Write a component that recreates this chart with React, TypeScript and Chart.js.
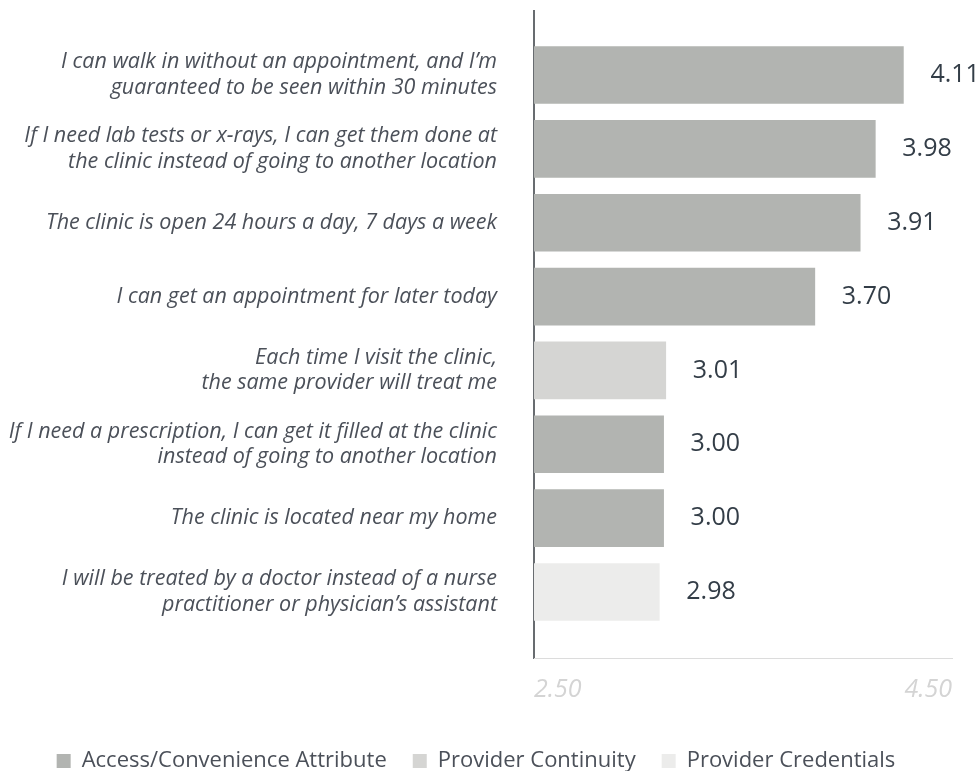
import React, { useEffect, useRef } from "react";
import { Chart, registerables } from "chart.js";

Chart.register(...registerables);

const categories: string[][] = [
  ["I can walk in without an appointment, and I’m", "guaranteed to be seen within 30 minutes"],
  ["If I need lab tests or x-rays, I can get them done at", "the clinic instead of going to another location"],
  ["The clinic is open 24 hours a day, 7 days a week"],
  ["I can get an appointment for later today"],
  ["Each time I visit the clinic,", "the same provider will treat me"],
  ["If I need a prescription, I can get it filled at the clinic", "instead of going to another location"],
  ["The clinic is located near my home"],
  ["I will be treated by a doctor instead of a nurse", "practitioner or physician’s assistant"],
];
const values: number[] = [4.11, 3.98, 3.91, 3.7, 3.01, 3.0, 3.0, 2.98];
const groupOf: number[] = [0, 0, 0, 0, 1, 0, 0, 2];
const groupNames: string[] = ["Access/Convenience Attribute", "Provider Continuity", "Provider Credentials"];
const groupColors: string[] = ["#b2b4b1", "#d5d5d3", "#ececeb"];
const xTickLabels: string[] = ["2.50", "4.50"];
const xMin = 2.4;
const xMax = 4.335;
const yMin = -0.867;
const yMax = 7.894;

const FONT = "'Open Sans', 'Noto Sans', sans-serif";

const valueLabels = {
  id: "valueLabels",
  afterDatasetsDraw(chart: any) {
    const { ctx } = chart;
    const meta = chart.getDatasetMeta(0);
    ctx.save();
    ctx.font = `25px ${FONT}`;
    ctx.fillStyle = "#333d47";
    ctx.textAlign = "left";
    ctx.textBaseline = "middle";
    meta.data.forEach((el: any, i: number) => {
      ctx.fillText(values[i].toFixed(2), el.x + 27, el.y);
    });
    ctx.restore();
  },
};

export default function App() {
  const ref = useRef<HTMLCanvasElement | null>(null);
  useEffect(() => {
    if (!ref.current) return;
    const chart = new Chart(ref.current, {
      type: "bar",
      data: {
        datasets: [
          {
            data: values.map((v, i) => ({ x: v, y: i })) as any,
            backgroundColor: groupOf.map((g) => groupColors[g]),
            borderWidth: 0,
            barThickness: 57,
          },
        ],
      },
      options: {
        indexAxis: "y",
        animation: false,
        responsive: true,
        maintainAspectRatio: false,
        layout: { padding: { top: 11, right: 28, left: 0, bottom: 0 } },
        scales: {
          y: {
            type: "linear",
            reverse: true,
            offset: false,
            min: yMin,
            max: yMax,
            afterBuildTicks: (s: any) => {
              s.ticks = categories.map((_, i) => ({ value: i }));
            },
            afterFit: (s: any) => {
              s.width = 534;
              s.paddingTop = 0;
              s.paddingBottom = 0;
            },
            ticks: {
              autoSkip: false,
              padding: 37,
              color: "#4b5059",
              font: { family: FONT, size: 21.5, style: "italic", lineHeight: 1.2 },
              callback: (_v: any, i: number) => categories[i],
            },
            grid: { display: false, drawTicks: false, offset: false },
            border: { display: true, color: "#686c70", width: 2 },
          },
          x: {
            type: "linear",
            min: xMin,
            max: xMax,
            afterBuildTicks: (s: any) => {
              s.ticks = [{ value: xMin }, { value: xMax }];
            },
            afterFit: (s: any) => {
              s.height = 66;
              s.paddingLeft = 0;
              s.paddingRight = 0;
            },
            ticks: {
              autoSkip: false,
              maxRotation: 0,
              minRotation: 0,
              align: "inner",
              padding: 17,
              color: "#d4d4d4",
              font: { family: FONT, size: 25, style: "italic" },
              callback: (_v: any, i: number) => xTickLabels[i],
            },
            grid: { display: false, drawTicks: false },
            border: { display: true, color: "#dcdcdc", width: 1 },
          },
        },
        plugins: {
          tooltip: { enabled: false },
          legend: {
            position: "bottom",
            onClick: () => {},
            labels: {
              boxWidth: 14,
              boxHeight: 14,
              padding: 26,
              color: "#4b5059",
              font: { family: FONT, size: 22 },
              generateLabels: () =>
                groupNames.map((name, i) => ({
                  text: name,
                  fillStyle: groupColors[i],
                  strokeStyle: groupColors[i],
                  lineWidth: 0,
                  hidden: false,
                  datasetIndex: 0,
                  fontColor: "#4b5059",
                })),
            },
          },
        },
      },
      plugins: [valueLabels],
    });
    return () => chart.destroy();
  }, []);

  return (
    <div style={{ position: "absolute", left: 0, top: 0, width: 980, height: 771, overflow: "hidden", background: "#fff" }}>
      <div style={{ position: "relative", width: 980, height: 782 }}>
        <canvas ref={ref} />
      </div>
    </div>
  );
}
